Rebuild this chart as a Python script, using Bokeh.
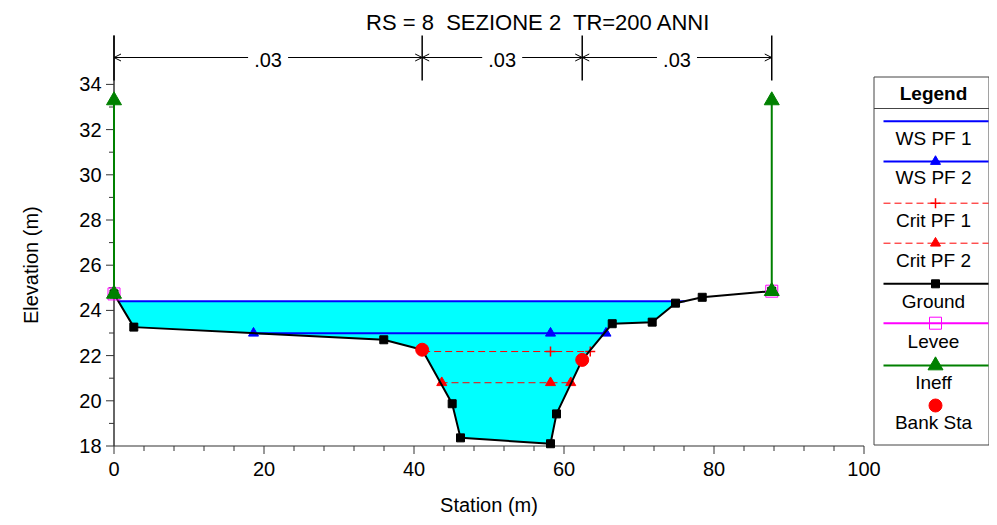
import math
import numpy as np
from bokeh.plotting import figure
from bokeh.models import Range1d, Arrow, OpenHead
from bokeh.core.properties import value
from bokeh.embed import file_html
from bokeh.resources import INLINE

# ---------------- data ----------------
title_text = "RS = 8\u00a0 SEZIONE 2\u00a0 TR=200 ANNI"
x_title = "Station (m)"
y_title = "Elevation (m)"
ground_sta = [0.0, 2.64, 35.97, 41.09, 45.09, 46.2, 58.2, 59.0, 62.43, 66.43, 71.76, 74.87, 78.43, 87.7]
ground_elev = [24.73, 23.26, 22.70, 22.26, 19.87, 18.36, 18.10, 19.42, 21.81, 23.41, 23.48, 24.32, 24.58, 24.85]
ws_pf1 = 24.41
ws_pf2 = 22.99
crit_pf1 = 22.18
crit_pf2 = 20.80
ws2_marker_sta = [18.6, 58.2, 65.6]
crit1_marker_sta = [58.2, 63.5]
crit2_marker_sta = [43.7, 58.2, 60.9]
bank_sta = [41.09, 62.43]
bank_elev = [22.26, 21.81]
levee_sta = [0.0, 87.7]
levee_elev = [24.73, 24.85]
ineff_sta = [0.0, 87.7]
ineff_elev = [33.29, 33.29]
n_break_sta = [0.0, 41.09, 62.43, 87.7]
n_values = [".03", ".03", ".03"]
x_ticks = [0, 20, 40, 60, 80, 100]
x_tick_labels = ["0", "20", "40", "60", "80", "100"]
x_minor = [4, 8, 12, 16, 24, 28, 32, 36, 44, 48, 52, 56, 64, 68, 72, 76, 84, 88, 92, 96]
y_ticks = [18, 20, 22, 24, 26, 28, 30, 32, 34]
y_tick_labels = ["18", "20", "22", "24", "26", "28", "30", "32", "34"]
y_minor = [19, 21, 23, 25, 27, 29, 31, 33]
legend_title = "Legend"
legend_labels = ["WS PF 1", "WS PF 2", "Crit PF 1", "Crit PF 2", "Ground", "Levee", "Ineff", "Bank Sta"]

FONT = "Liberation Sans"
W, H = 989, 517
X0PX, PXS = 113.5, 7.5     # pixel of station 0, px per m
Y0PX, PXM = 445.5, 22.6    # pixel of elevation 18, px per m
XMIN, YMIN = 0.0, 18.0
AX = "#333333"


def page_x(px):
    return XMIN + (px - X0PX) / PXS


def page_y(py):
    return YMIN + (Y0PX - py) / PXM


def crossings(level):
    xs = []
    for i in range(len(ground_sta) - 1):
        x0, x1 = ground_sta[i], ground_sta[i + 1]
        y0, y1 = ground_elev[i], ground_elev[i + 1]
        if (y0 - level) * (y1 - level) < 0:
            xs.append(x0 + (level - y0) / (y1 - y0) * (x1 - x0))
    return xs


def txt(xs, ys, texts, size="20px", align="center", **kw):
    p.text(xs, ys, text=texts, text_font=value(FONT), text_font_size=value(size),
           text_align=align, text_baseline="middle", text_color="black", **kw)


p = figure(width=W, height=H, x_range=Range1d(page_x(0), page_x(W)),
           y_range=Range1d(page_y(H), page_y(0)),
           output_backend="svg", toolbar_location=None, title=None, min_border=0,
           x_axis_location=None, y_axis_location=None)
p.outline_line_color = None
p.xgrid.visible = False
p.ygrid.visible = False

# water fill for WS PF 1
cr = crossings(ws_pf1)
xl, xr = cr[0], cr[-1]
inner = [(s, e) for s, e in zip(ground_sta, ground_elev) if xl < s < xr]
p.patch([xl] + [s for s, _ in inner] + [xr], [ws_pf1] + [e for _, e in inner] + [ws_pf1],
        fill_color="#00FFFF", line_color=None)

# ---- axes drawn from tick lists ----
dim_top, dim_bot, dim_mid = page_y(35), page_y(80), page_y(57)
p.segment(x0=[x_ticks[0]], y0=[y_ticks[0]], x1=[x_ticks[-1]], y1=[y_ticks[0]], line_color=AX, line_width=1.2)
p.segment(x0=[x_ticks[0]], y0=[y_ticks[0]], x1=[x_ticks[0]], y1=[dim_top], line_color=AX, line_width=1.5)
ymaj, ymin_ = 8 / PXM, 5 / PXM
p.segment(x0=x_ticks, y0=[y_ticks[0]] * len(x_ticks), x1=x_ticks, y1=[y_ticks[0] - ymaj] * len(x_ticks),
          line_color=AX, line_width=1)
p.segment(x0=x_minor, y0=[y_ticks[0]] * len(x_minor), x1=x_minor, y1=[y_ticks[0] - ymin_] * len(x_minor),
          line_color=AX, line_width=1)
xmaj, xmin_ = 8 / PXS, 5 / PXS
p.segment(x0=[x_ticks[0]] * len(y_ticks), y0=y_ticks, x1=[x_ticks[0] - xmaj] * len(y_ticks), y1=y_ticks,
          line_color=AX, line_width=1)
p.segment(x0=[x_ticks[0]] * len(y_minor), y0=y_minor, x1=[x_ticks[0] - xmin_] * len(y_minor), y1=y_minor,
          line_color=AX, line_width=1)
txt(x_ticks, [page_y(468)] * len(x_ticks), x_tick_labels)
txt([page_x(101)] * len(y_ticks), y_ticks, y_tick_labels, align="right")
txt([(x_ticks[0] + x_ticks[-1]) / 2], [page_y(504)], [x_title])
txt([page_x(30)], [(y_ticks[0] + y_ticks[-1]) / 2], [y_title], angle=math.pi / 2)

# WS lines
p.line([xl, xr], [ws_pf1, ws_pf1], line_color="#0000FF", line_width=2)
c2 = crossings(ws_pf2)
p.line([c2[0], c2[-1]], [ws_pf2, ws_pf2], line_color="#0000FF", line_width=2)
p.scatter(ws2_marker_sta, [ws_pf2] * len(ws2_marker_sta), marker="triangle", size=10,
          fill_color="#0000FF", line_color="#0000FF")

# Crit lines
c = crossings(crit_pf1)
p.line([c[0], c[-1]], [crit_pf1] * 2, line_color="#FF0000", line_width=1, line_dash="7 4")
p.scatter(crit1_marker_sta, [crit_pf1] * len(crit1_marker_sta), marker="cross", size=10,
          line_color="#FF0000", line_width=1.5)
c = crossings(crit_pf2)
p.line([c[0], c[-1]], [crit_pf2] * 2, line_color="#FF0000", line_width=1, line_dash="7 4")
p.scatter(crit2_marker_sta, [crit_pf2] * len(crit2_marker_sta), marker="triangle", size=10,
          fill_color="#FF0000", line_color="#FF0000")

# Ground
p.line(ground_sta, ground_elev, line_color="black", line_width=2)
p.scatter(ground_sta, ground_elev, marker="square", size=8, fill_color="black", line_color="black")

# Bank stations
p.scatter(bank_sta, bank_elev, marker="circle", size=13, fill_color="#FF0000", line_color="#FF0000")

# Levee
p.scatter(levee_sta, levee_elev, marker="square", size=12, fill_color=None, line_color="#FF00FF", line_width=1)

# Ineffective flow
base = list(np.interp(ineff_sta, ground_sta, ground_elev))
p.segment(x0=ineff_sta, y0=base, x1=ineff_sta, y1=ineff_elev, line_color="#008000", line_width=2)
p.scatter(ineff_sta + ineff_sta, base + ineff_elev, marker="triangle", size=15,
          fill_color="#008000", line_color="#008000")

# n-value dimension bars
p.segment(x0=n_break_sta, y0=[dim_bot] * len(n_break_sta), x1=n_break_sta,
          y1=[dim_top] * len(n_break_sta), line_color="black", line_width=1.5)
gap = 20 / PXS
mids = [(a + b) / 2 for a, b in zip(n_break_sta[:-1], n_break_sta[1:])]
for a, b, m in zip(n_break_sta[:-1], n_break_sta[1:], mids):
    p.add_layout(Arrow(end=OpenHead(size=7, line_width=1), x_start=m - gap, y_start=dim_mid,
                       x_end=a, y_end=dim_mid, line_width=1, line_color="black"))
    p.add_layout(Arrow(end=OpenHead(size=7, line_width=1), x_start=m + gap, y_start=dim_mid,
                       x_end=b, y_end=dim_mid, line_width=1, line_color="black"))
txt(mids, [page_y(59)] * len(mids), n_values)

# title
txt([page_x(538)], [page_y(22)], [title_text], size="22px")

# ---------------- legend box (positioned in pixels) ----------------
L, R = 873.5, 988.5
p.quad(left=[page_x(L)], right=[page_x(R)], top=[page_y(76.5)], bottom=[page_y(444.5)],
       fill_color="white", line_color="#444444", line_width=1)
p.segment(x0=[page_x(L)], y0=[page_y(108)], x1=[page_x(R)], y1=[page_y(108)], line_color="#444444", line_width=1)
txt([page_x(933)], [page_y(93)], [legend_title], size="19px", text_font_style="bold")

line_y = [120.7, 161, 202.7, 242.7, 283.3, 322.7, 365, 405]
lab_y = [138.3, 176.7, 220, 260, 300.7, 340.7, 381.7, 421.7]
styles = [
    dict(color="#0000FF", dash="solid", w=2, marker=None),
    dict(color="#0000FF", dash="solid", w=2, marker=("triangle", 10, "#0000FF", "#0000FF")),
    dict(color="#FF0000", dash="7 4", w=1, marker=("cross", 10, None, "#FF0000")),
    dict(color="#FF0000", dash="7 4", w=1, marker=("triangle", 10, "#FF0000", "#FF0000")),
    dict(color="black", dash="solid", w=2, marker=("square", 8, "black", "black")),
    dict(color="#FF00FF", dash="solid", w=2, marker=("square", 12, None, "#FF00FF")),
    dict(color="#008000", dash="solid", w=2, marker=("triangle", 15, "#008000", "#008000")),
    dict(color=None, dash="solid", w=2, marker=("circle", 13, "#FF0000", "#FF0000")),
]
mx = page_x(935)
for st, ly in zip(styles, line_y):
    yy = page_y(ly)
    if st["color"] is not None:
        p.line([page_x(883), page_x(988)], [yy, yy], line_color=st["color"], line_width=st["w"],
               line_dash=st["dash"])
    if st["marker"] is not None:
        mk, sz, fc, lc = st["marker"]
        p.scatter([mx], [yy], marker=mk, size=sz, fill_color=fc, line_color=lc,
                  line_width=1.5 if mk == "cross" else 1)
txt([page_x(933)] * len(lab_y), [page_y(v) for v in lab_y], legend_labels, size="19px")

open("out.html", "w").write(file_html(p, INLINE))
